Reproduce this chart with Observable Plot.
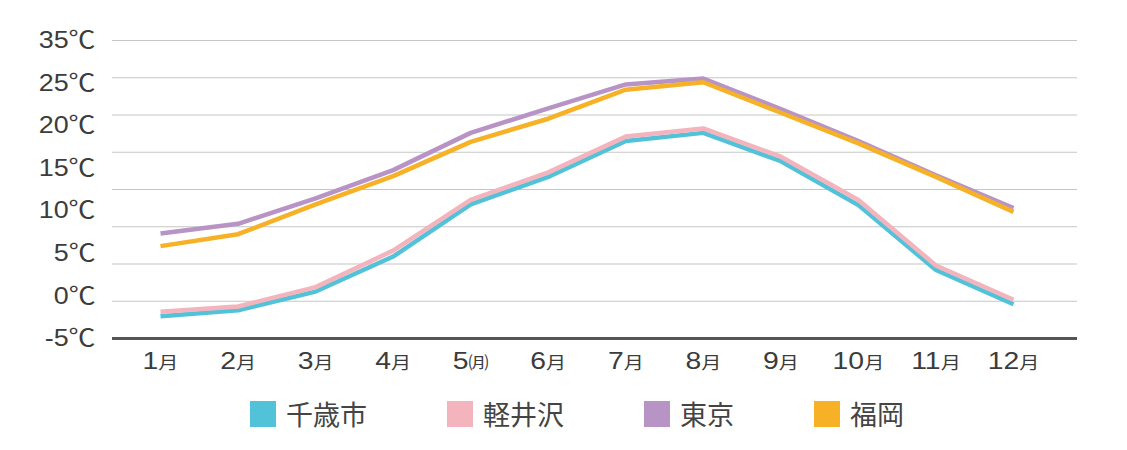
<!DOCTYPE html>
<html>
<head>
<meta charset="utf-8">
<script src="https://cdn.jsdelivr.net/npm/d3@7"></script>
<script src="https://cdn.jsdelivr.net/npm/@observablehq/plot@0.6"></script>
<style>
  html, body { margin: 0; padding: 0; background: #fff; }
  body { width: 1127px; height: 450px; overflow: hidden; font-family: "Liberation Sans", "Noto Sans CJK JP", sans-serif; }
  #legend { display: flex; align-items: center; margin-top: 9px; margin-left: 250px; gap: 80px; color: #444; font-family: "Noto Sans CJK JP", sans-serif; font-size: 27px; }
  #legend .item { display: flex; align-items: center; gap: 10px; }
  #legend .sw { width: 26px; height: 26px; display: inline-block; }
</style>
</head>
<body>
<div id="chart"></div>
<div id="legend"></div>
<script>
const months = [1, 2, 3, 4, 5, 6, 7, 8, 9, 10, 11, 12];
const monthLabels = ["1月", "2月", "3月", "4月", "5㈪", "6月", "7月", "8月", "9月", "10月", "11月", "12月"];
const seriesNames = ["千歳市", "軽井沢", "東京", "福岡"];
const seriesColors = ["#52c2d9", "#f3b4bd", "#b894c6", "#f6b127"];
const chitose   = [-2.0, -1.2, 1.3, 6.0, 13.0, 16.7, 21.5, 22.6, 18.8, 12.9, 4.2, -0.4];
const karuizawa = [-1.4, -0.7, 1.9, 6.8, 13.6, 17.3, 22.1, 23.2, 19.4, 13.6, 4.8, 0.2];
const tokyo     = [9.1, 10.4, 13.8, 17.6, 22.6, 25.9, 29.1, 29.9, 25.8, 21.5, 16.9, 12.5];
const fukuoka   = [7.4, 9.0, 13.0, 16.8, 21.4, 24.5, 28.4, 29.4, 25.3, 21.2, 16.7, 12.0];
const gridValues = [0, 5, 10, 15, 20, 25, 30, 35];
const yTickLabels = ["35℃", "25℃", "20℃", "15℃", "10℃", "5℃", "0℃", "-5℃"];

const yMin = -5, yMax = 35;
const seriesValues = [chitose, karuizawa, tokyo, fukuoka];
const rows = [];
seriesValues.forEach((vals, s) => vals.forEach((v, i) => rows.push({series: seriesNames[s], month: months[i], value: v})));

// the labels are spread evenly over the full range in the original
const yLabelPos = yTickLabels.map((_, i) => yMax - i * (yMax - yMin) / (yTickLabels.length - 1));
const yLabelMap = new Map(yLabelPos.map((p, i) => [p, yTickLabels[i]]));
const xLabelMap = new Map(months.map((m, i) => [m, monthLabels[i]]));

const plot = Plot.plot({
  width: 1127,
  height: 385,
  marginLeft: 112,
  marginRight: 50,
  marginTop: 40,
  marginBottom: 47,
  style: {fontFamily: '"Liberation Sans", "Noto Sans CJK JP", sans-serif', background: "#fff"},
  x: {type: "linear", domain: [1, 12], insetLeft: 48, insetRight: 64},
  y: {domain: [yMin, yMax]},
  color: {domain: seriesNames, range: seriesColors},
  marks: [
    Plot.ruleY(gridValues, {stroke: "#c6c6c6", strokeWidth: 1.2}),
    Plot.ruleY([yMin], {stroke: "#555", strokeWidth: 3}),
    Plot.axisY(yLabelPos, {tickSize: 0, tickPadding: 17, fontSize: 24, fill: "#3c3c3c", tickFormat: d => yLabelMap.get(d), label: null}),
    Plot.axisX(months, {tickSize: 0, tickPadding: 13, fontSize: 24, fill: "#3c3c3c", tickFormat: d => xLabelMap.get(d), label: null}),
    Plot.lineY(rows, {x: "month", y: "value", z: "series", stroke: "series", strokeWidth: 4.5, strokeLinejoin: "miter", strokeLinecap: "butt"})
  ]
});
document.getElementById("chart").appendChild(plot);

// the original's lettering is horizontally wide: stretch each label's glyphs
function widen(t, k) {
  const w = t.getComputedTextLength();
  if (w > 0) {
    t.setAttribute("textLength", (w * k).toFixed(1));
    t.setAttribute("lengthAdjust", "spacingAndGlyphs");
  }
}
plot.querySelectorAll('g[aria-label="y-axis tick label"] text').forEach(t => {
  t.style.fontSize = "24px";
  widen(t, 1.12);
});
plot.querySelectorAll('g[aria-label="x-axis tick label"] text').forEach(t => {
  const s = t.textContent;
  const m = s.match(/^(\d+)(.*)$/);
  if (!m) return;
  t.textContent = "";
  t.style.fontSize = "24px";
  const a = document.createElementNS("http://www.w3.org/2000/svg", "tspan");
  a.textContent = m[1];
  a.style.fontSize = "24px";
  const b = document.createElementNS("http://www.w3.org/2000/svg", "tspan");
  b.textContent = m[2];
  b.style.fontSize = "17px";
  b.style.fontFamily = '"Noto Sans CJK JP", sans-serif';
  t.appendChild(a); t.appendChild(b);
  widen(t, 1.18);
});

const legend = document.getElementById("legend");
seriesNames.forEach((n, i) => {
  const item = document.createElement("div");
  item.className = "item";
  const sw = document.createElement("span");
  sw.className = "sw";
  sw.style.background = seriesColors[i];
  const lab = document.createElement("span");
  lab.textContent = n;
  item.appendChild(sw); item.appendChild(lab);
  legend.appendChild(item);
});
</script>
</body>
</html>
